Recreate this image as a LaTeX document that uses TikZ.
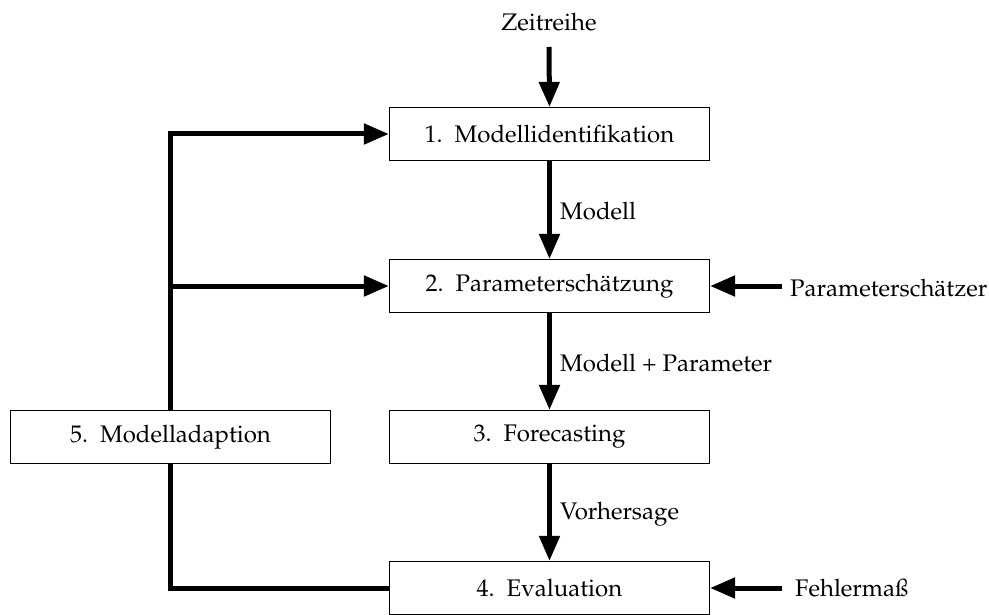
\documentclass[tikz,border=0pt]{standalone}
\usepackage[T1]{fontenc}
\usepackage{mathpazo}
\usetikzlibrary{arrows.meta}
\begin{document}
\begin{tikzpicture}[x=1pt,y=-1pt,
  every node/.style={font=\fontsize{24}{28}\selectfont},
  box/.style={draw, line width=1.2pt, minimum width=320pt, minimum height=53pt, inner sep=0pt},
  lbl/.style={inner sep=0pt},
  flow/.style={line width=5pt, -{Triangle[length=25pt,width=20pt]}},
  plainline/.style={line width=5pt, line join=miter}]
\useasboundingbox (0,0) rectangle (989,615);
\node[box] (b1) at (549.5,134) {1.\ \ Modellidentifikation};
\node[box] (b2) at (549.5,286) {2.\ \ Parametersch\"atzung};
\node[box] (b3) at (549.5,437) {3.\ \ Forecasting};
\node[box] (b4) at (549.5,588) {4.\ \ Evaluation};
\node[box] (b5) at (170.5,437) {5.\ \ Modelladaption};
\node[lbl] (zr) at (549,22) {Zeitreihe};
\coordinate (zs) at (549,47);
\node[lbl, anchor=west] (ps) at (790,288) {Parametersch\"atzer};
\coordinate (pss) at (782,286);
\node[lbl, anchor=west] (fm) at (795,588) {Fehlerma\ss};
\coordinate (fms) at (782,588);
\node[lbl, anchor=west] (l1) at (560,211) {Modell};
\node[lbl, anchor=west] (l2) at (560,363) {Modell + Parameter};
\node[lbl, anchor=west] (l3) at (560,514) {Vorhersage};
\coordinate (c1) at (170,134);
\coordinate (c2) at (170,286);
\coordinate (c4) at (170,588);
\draw[flow] (zs) -- (b1.north);
\draw[flow] (b1.south) -- (b2.north);
\draw[flow] (b2.south) -- (b3.north);
\draw[flow] (b3.south) -- (b4.north);
\draw[flow] (pss) -- (b2.east);
\draw[flow] (fms) -- (b4.east);
\draw[flow] (b5.north -| c1) -- (c1) -- (b1.west);
\draw[flow] (c2) -- (b2.west);
\draw[plainline] (b5.south -| c4) -- (c4) -- (b4.west);
\end{tikzpicture}
\end{document}
